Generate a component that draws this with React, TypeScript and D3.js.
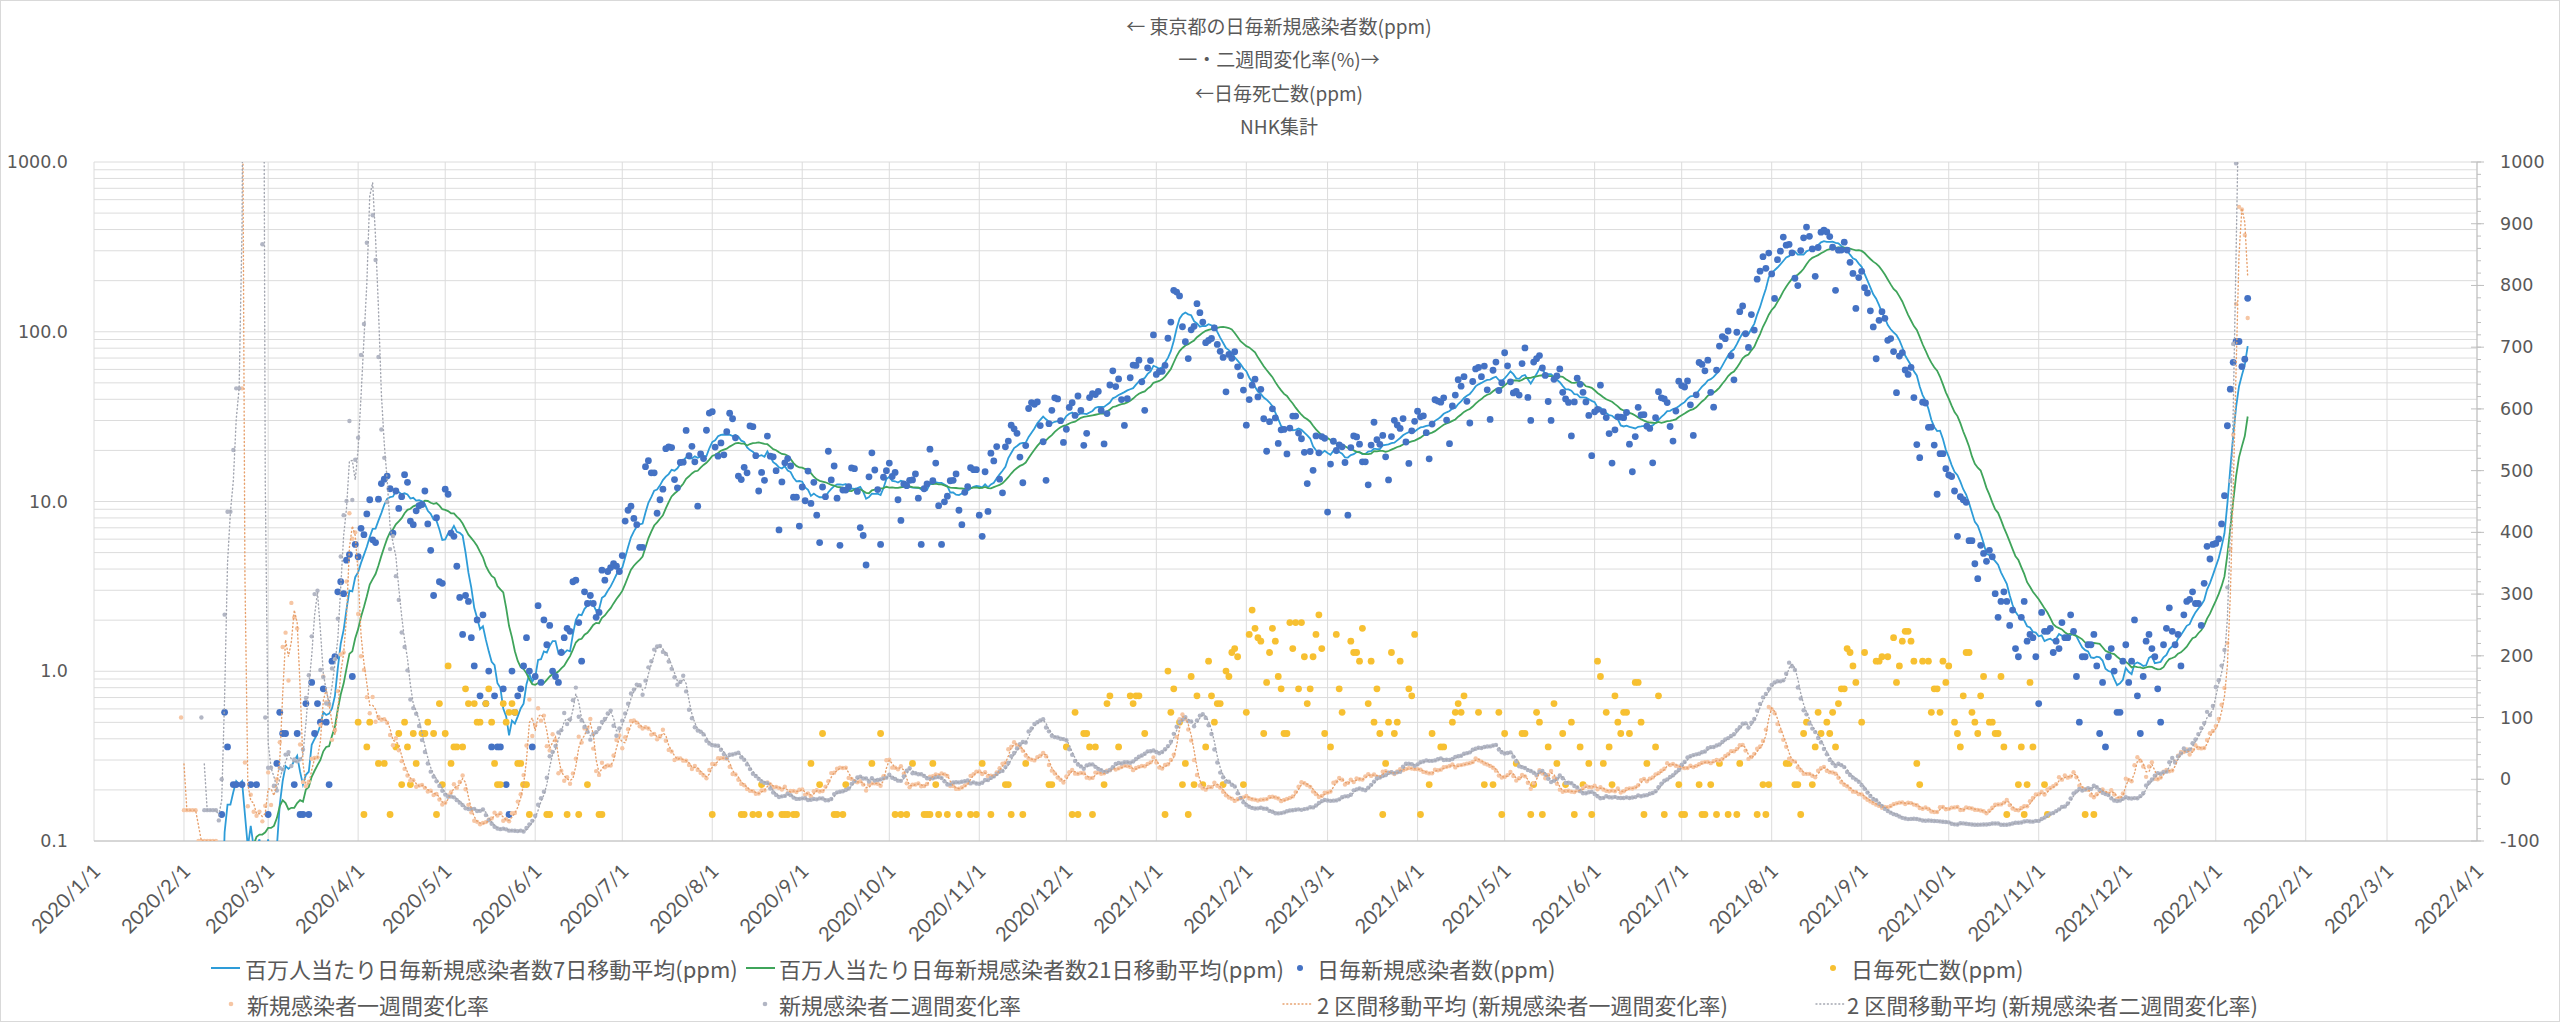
import React from 'react';
import * as d3 from 'd3';

// ---------------- data ----------------
const POPULATION_MILLION = 13.96;

// Tokyo daily new cases (count), one array per month, starting 2020-01-01
const c2020_01 = [0,0,0,0,0,0,0,0,0,0, 0,0,0,0,0,0,0,0,0,0, 0,0,0,1,1,0,0,0,0,1, 0];
const c2020_02 = [0,0,0,0,0,0,0,0,0,0, 0,0,1,2,8,5,0,3,3,0, 3,0,0,3,0,3,1,0,1];
const c2020_03 = [2,0,1,4,8,6,6,1,1,3, 6,2,2,9,2,12,6,9,7,11, 7,3,16,17,41,47,40,63,68,13, 78];
const c2020_04 = [66,97,89,118,143,83,80,144,178,189, 197,166,91,161,127,149,201,181,107,102, 123,132,134,161,103,72,39,112,47,46];
const c2020_05 = [165,154,91,87,58,38,23,39,36,22, 15,28,10,30,9,14,5,10,5,5, 11,3,2,14,8,10,11,15,22,14, 5];
const c2020_06 = [13,34,12,28,20,26,14,13,12,18, 22,25,24,47,48,27,16,41,35,39, 35,29,31,55,48,54,57,60,58,54];
const c2020_07 = [67,107,124,131,111,102,75,75,224,243, 206,206,119,143,165,286,293,290,188,168, 237,238,366,260,295,239,131,266,250,367, 463];
const c2020_08 = [472,292,258,309,263,360,462,429,331,197, 188,222,206,389,385,260,161,207,186,339, 258,256,212,95,182,236,250,226,148,148, 100];
const c2020_09 = [170,141,211,136,181,116,80,170,149,276, 187,226,146,77,163,163,171,220,218,160, 98,88,59,195,270,214,164,78,194,212];
const c2020_10 = [235,196,207,143,108,177,173,186,187,203, 146,78,166,177,284,185,235,132,78,139, 150,185,186,203,124,102,158,171,221,215, 215];
const c2020_11 = [116,87,209,122,269,242,294,189,157,293, 317,393,374,352,255,180,298,493,534,522, 539,391,314,186,401,481,570,561,418,311];
const c2020_12 = [372,500,533,449,584,480,299,352,572,602, 595,621,480,305,460,678,822,664,736,556, 392,563,748,888,884,949,708,481,856,944, 1337];
const c2021_01 = [783,814,816,884,1278,1591,2447,2392,2268,1494, 1219,970,1433,1502,2044,1809,1592,1204,1240,1274, 1471,1175,1070,986,618,1026,973,1064,868,769, 633];
const c2021_02 = [393,556,676,734,577,639,429,276,412,491, 434,307,369,371,266,378,445,445,353,327, 272,178,275,213,340,270,337,329];
const c2021_03 = [121,232,316,279,301,293,237,116,290,340, 335,304,239,239,175,300,409,323,303,342, 256,187,337,420,394,376,430,313,234,364, 414];
const c2021_04 = [475,440,446,355,249,399,555,545,537,570, 421,306,510,591,729,667,759,543,405,711, 843,861,759,876,635,425,828,925,629,698];
const c2021_05 = [1050,879,708,609,621,591,907,1121,573,419, 925,969,1010,854,772,542,419,732,766,843, 614,561,535,340,539,743,684,614,539,449, 260];
const c2021_06 = [471,487,676,472,436,351,235,369,440,439, 435,467,304,209,337,501,452,453,388,376, 236,435,619,570,562,534,386,317,476,714];
const c2021_07 = [673,660,716,518,342,593,920,896,822,950, 614,502,830,1149,1308,1271,1410,1008,727,1387, 1832,1979,1359,1128,1763,1429,2848,3177,3865,3300, 4058];
const c2021_08 = [3058,2195,3709,4166,5042,4515,4566,4066,2884,2612, 4200,4989,5773,5094,4295,2962,4377,5386,5534,5405, 5074,4392,2447,4220,4228,4704,4227,3581,3081,1915, 2909];
const c2021_09 = [3168,2539,2362,1853,1490,968,1629,1834,1675,1242, 1273,1067,611,1004,1052,831,782,862,572,302, 253,537,531,382,383,300,154,267,267,218];
const c2021_10 = [200,196,161,87,149,143,138,82,82,60, 49,77,69,62,72,66,40,29,36,41, 36,26,32,19,17,29,36,21,23,22, 17];
const c2021_11 = [9,31,24,24,25,18,21,19,27,22, 22,30,24,13,7,17,17,20,20,23, 15,6,12,5,17,19,14,8,8,16];
const c2021_12 = [20,12,16,28,10,6,13,21,23,19, 17,11,7,20,25,33,24,20,23,15, 30,36,37,41,35,35,26,46,76,64, 78];
const c2022_01 = [79,84,103,151,390,641,922,1224,1223,871, 962,2198];

// Tokyo daily deaths (count)
const deathRecords: [string, number][] = [
  ['2020-04-01',7],['2020-04-03',2],['2020-04-04',5],['2020-04-05',7],['2020-04-08',4],['2020-04-10',4],['2020-04-12',2],['2020-04-14',5],['2020-04-15',6],['2020-04-16',3],['2020-04-17',7],['2020-04-18',5],['2020-04-19',3],['2020-04-20',6],['2020-04-21',4],['2020-04-23',6],['2020-04-24',6],['2020-04-25',7],['2020-04-27',6],['2020-04-28',2],['2020-04-29',9],['2020-04-30',3],
  ['2020-05-01',6],['2020-05-02',15],['2020-05-03',4],['2020-05-04',5],['2020-05-05',5],['2020-05-07',5],['2020-05-08',11],['2020-05-09',9],['2020-05-11',9],['2020-05-12',7],['2020-05-13',7],['2020-05-15',9],['2020-05-16',11],['2020-05-17',7],['2020-05-18',4],['2020-05-19',3],['2020-05-20',3],['2020-05-21',9],['2020-05-22',7],['2020-05-23',8],['2020-05-24',9],['2020-05-25',8],['2020-05-26',4],['2020-05-27',4],['2020-05-28',3],['2020-05-29',3],['2020-05-30',2],
  ['2020-06-05',2],['2020-06-06',2],['2020-06-12',2],['2020-06-16',2],['2020-06-19',3],['2020-06-23',2],['2020-06-24',2],
  ['2020-08-01',2],['2020-08-11',2],['2020-08-12',2],['2020-08-15',2],['2020-08-17',2],['2020-08-18',3],['2020-08-21',2],['2020-08-25',2],['2020-08-26',2],['2020-08-27',2],['2020-08-29',2],['2020-08-30',2],
  ['2020-09-04',4],['2020-09-07',3],['2020-09-08',6],['2020-09-12',2],['2020-09-13',2],['2020-09-15',2],['2020-09-16',3],['2020-09-25',4],['2020-09-28',6],
  ['2020-10-03',2],['2020-10-05',2],['2020-10-07',2],['2020-10-09',4],['2020-10-13',2],['2020-10-14',2],['2020-10-15',2],['2020-10-16',4],['2020-10-17',3],['2020-10-18',2],['2020-10-21',2],['2020-10-25',2],['2020-10-29',2],['2020-10-31',2],
  ['2020-11-02',4],['2020-11-05',2],['2020-11-10',3],['2020-11-11',3],['2020-11-12',2],['2020-11-16',2],['2020-11-17',4],['2020-11-25',3],['2020-11-26',3],
  ['2020-12-01',5],['2020-12-03',2],['2020-12-04',8],['2020-12-05',2],['2020-12-07',6],['2020-12-08',6],['2020-12-09',5],['2020-12-10',2],['2020-12-11',5],['2020-12-14',3],['2020-12-15',9],['2020-12-16',10],['2020-12-19',5],['2020-12-23',10],['2020-12-24',9],['2020-12-25',10],['2020-12-26',10],['2020-12-28',6],
  ['2021-01-04',2],['2021-01-05',14],['2021-01-06',8],['2021-01-07',11],['2021-01-09',7],['2021-01-10',3],['2021-01-11',4],['2021-01-12',2],['2021-01-13',13],['2021-01-14',3],['2021-01-15',10],['2021-01-17',3],['2021-01-18',5],['2021-01-19',16],['2021-01-20',10],['2021-01-21',7],['2021-01-22',9],['2021-01-23',9],['2021-01-24',3],['2021-01-25',14],['2021-01-26',13],['2021-01-27',18],['2021-01-28',19],['2021-01-29',17],['2021-01-31',3],
  ['2021-02-01',8],['2021-02-02',23],['2021-02-03',32],['2021-02-04',25],['2021-02-05',22],['2021-02-06',21],['2021-02-07',6],['2021-02-08',12],['2021-02-09',18],['2021-02-10',25],['2021-02-11',21],['2021-02-12',13],['2021-02-13',11],['2021-02-14',6],['2021-02-15',6],['2021-02-16',27],['2021-02-17',19],['2021-02-18',27],['2021-02-19',11],['2021-02-20',27],['2021-02-21',17],['2021-02-22',9],['2021-02-23',11],['2021-02-24',17],['2021-02-25',23],['2021-02-26',30],['2021-02-27',19],['2021-02-28',6],
  ['2021-03-02',5],['2021-03-04',23],['2021-03-05',11],['2021-03-06',8],['2021-03-09',21],['2021-03-10',18],['2021-03-11',18],['2021-03-12',16],['2021-03-13',25],['2021-03-15',9],['2021-03-16',16],['2021-03-17',7],['2021-03-18',11],['2021-03-19',6],['2021-03-20',2],['2021-03-21',4],['2021-03-22',7],['2021-03-23',18],['2021-03-24',6],['2021-03-25',7],['2021-03-26',16],['2021-03-29',11],['2021-03-30',10],['2021-03-31',23],
  ['2021-04-02',2],['2021-04-05',3],['2021-04-06',6],['2021-04-09',5],['2021-04-10',5],['2021-04-13',7],['2021-04-14',8],['2021-04-15',9],['2021-04-16',8],['2021-04-17',10],['2021-04-22',8],['2021-04-24',3],['2021-04-27',3],['2021-04-29',8],['2021-04-30',2],
  ['2021-05-01',6],['2021-05-05',4],['2021-05-07',6],['2021-05-08',6],['2021-05-10',2],['2021-05-11',3],['2021-05-12',8],['2021-05-13',7],['2021-05-14',2],['2021-05-16',5],['2021-05-18',9],['2021-05-19',4],['2021-05-21',6],['2021-05-22',3],['2021-05-24',7],['2021-05-25',2],['2021-05-27',5],['2021-05-28',3],['2021-05-30',4],['2021-05-31',2],
  ['2021-06-02',16],['2021-06-03',13],['2021-06-04',4],['2021-06-05',8],['2021-06-06',5],['2021-06-07',3],['2021-06-08',10],['2021-06-09',7],['2021-06-10',6],['2021-06-11',8],['2021-06-12',8],['2021-06-13',6],['2021-06-15',12],['2021-06-16',12],['2021-06-17',7],['2021-06-18',2],['2021-06-19',4],['2021-06-22',5],['2021-06-23',10],['2021-06-25',2],['2021-06-30',3],
  ['2021-07-01',2],['2021-07-02',2],['2021-07-07',3],['2021-07-08',2],['2021-07-09',2],['2021-07-11',3],['2021-07-13',2],['2021-07-14',4],['2021-07-17',2],['2021-07-20',2],['2021-07-21',4],['2021-07-27',2],['2021-07-29',3],['2021-07-30',2],['2021-07-31',3],
  ['2021-08-06',4],['2021-08-07',4],['2021-08-09',3],['2021-08-10',3],['2021-08-11',2],['2021-08-12',6],['2021-08-13',7],['2021-08-15',3],['2021-08-16',5],['2021-08-17',8],['2021-08-18',6],['2021-08-20',7],['2021-08-21',6],['2021-08-22',8],['2021-08-23',5],['2021-08-24',9],['2021-08-25',11],['2021-08-26',11],['2021-08-27',19],['2021-08-28',18],['2021-08-29',15],['2021-08-30',12],
  ['2021-09-01',7],['2021-09-02',18],['2021-09-06',16],['2021-09-07',16],['2021-09-08',17],['2021-09-10',17],['2021-09-12',22],['2021-09-13',12],['2021-09-14',15],['2021-09-15',21],['2021-09-16',24],['2021-09-17',24],['2021-09-18',21],['2021-09-19',16],['2021-09-20',4],['2021-09-21',3],['2021-09-22',16],['2021-09-24',16],['2021-09-25',8],['2021-09-26',11],['2021-09-27',11],['2021-09-28',8],['2021-09-29',16],['2021-09-30',12],
  ['2021-10-01',15],['2021-10-03',7],['2021-10-04',6],['2021-10-05',5],['2021-10-06',10],['2021-10-07',18],['2021-10-08',18],['2021-10-09',8],['2021-10-10',7],['2021-10-11',6],['2021-10-12',10],['2021-10-13',13],['2021-10-15',7],['2021-10-16',7],['2021-10-17',6],['2021-10-18',6],['2021-10-19',13],['2021-10-20',5],['2021-10-21',2],['2021-10-25',3],['2021-10-26',5],['2021-10-27',2],['2021-10-28',3],['2021-10-29',12],['2021-10-30',5],
  ['2021-11-03',3],['2021-11-04',2],['2021-11-17',2],['2021-11-20',2],
];

const leftTicks = [0.1, 1, 10, 100, 1000];
const leftTickLabels = ['0.1', '1.0', '10.0', '100.0', '1000.0'];
const rightTicks = [-100, 0, 100, 200, 300, 400, 500, 600, 700, 800, 900, 1000];
const titleLines = ['← 東京都の日毎新規感染者数(ppm)', '一・二週間変化率(%)→', '←日毎死亡数(ppm)', 'NHK集計'];
const legendRow1 = ['百万人当たり日毎新規感染者数7日移動平均(ppm)', '百万人当たり日毎新規感染者数21日移動平均(ppm)', '日毎新規感染者数(ppm)', '日毎死亡数(ppm)'];
const legendRow2 = ['新規感染者一週間変化率', '新規感染者二週間変化率', '2 区間移動平均 (新規感染者一週間変化率)', '2 区間移動平均 (新規感染者二週間変化率)'];

// ---------------- layout ----------------
const W = 2560, H = 1022;
const PL = 94, PR = 2477, PT = 162, PB = 841;

const C_MA7 = '#2E9CD8';
const C_MA21 = '#3FA45A';
const C_CASE = '#4472C4';
const C_DEATH = '#F7C031';
const C_R1DOT = '#F6C6A4';
const C_R2DOT = '#B2B6C4';
const C_R1LINE = '#E7A06C';
const C_R2LINE = '#A3A6B0';
const TXT = '#595959';
const GRID = '#DCDCDC';
const CJK = "'Noto Sans CJK JP', 'Noto Sans', sans-serif";
const DOTS = '1 2.8';

export default function App() {
  const daily = [
    ...c2020_01, ...c2020_02, ...c2020_03, ...c2020_04, ...c2020_05, ...c2020_06,
    ...c2020_07, ...c2020_08, ...c2020_09, ...c2020_10, ...c2020_11, ...c2020_12,
    ...c2021_01, ...c2021_02, ...c2021_03, ...c2021_04, ...c2021_05, ...c2021_06,
    ...c2021_07, ...c2021_08, ...c2021_09, ...c2021_10, ...c2021_11, ...c2021_12,
    ...c2022_01,
  ];
  const dates = daily.map((_, i) => new Date(Date.UTC(2020, 0, 1 + i)));
  const idx = daily.map((_, i) => i);

  const x = d3.scaleUtc().domain([new Date(Date.UTC(2020, 0, 1)), new Date(Date.UTC(2022, 3, 1))]).range([PL, PR]);
  const yL = d3.scaleLog().domain([0.1, 1000]).range([PB, PT]);
  const yR = d3.scaleLinear().domain([-100, 1000]).range([PB, PT]);

  const sumN = (i: number, n: number) => (i - n + 1 < 0 ? null : d3.sum(daily.slice(i - n + 1, i + 1)));
  const ma7 = daily.map((_, i) => { const s = sumN(i, 7); return s == null ? null : s / 7 / POPULATION_MILLION; });
  const ma21 = daily.map((_, i) => { const s = sumN(i, 21); return s == null ? null : s / 21 / POPULATION_MILLION; });
  // period-over-period change of the n-day total (%)
  const rate = (n: number) => daily.map((_, i) => {
    const a = sumN(i, n); const b = i - n >= 0 ? sumN(i - n, n) : null;
    if (a == null || b == null || b === 0) return null;
    return (a / b - 1) * 100;
  });
  const r1 = rate(7);
  const r2 = rate(14);
  const ma2 = (r: (number | null)[]) => r.map((v, i) => (i > 0 && v != null && r[i - 1] != null ? (v + (r[i - 1] as number)) / 2 : null));
  const r1m = ma2(r1);
  const r2m = ma2(r2);

  const logPath = (arr: (number | null)[]) => d3.line<number>()
    .defined((i) => arr[i] != null && (arr[i] as number) > 0)
    .x((i) => x(dates[i]))
    .y((i) => yL(arr[i] as number))(idx) || '';
  const linPath = (arr: (number | null)[]) => d3.line<number>()
    .defined((i) => arr[i] != null)
    .x((i) => x(dates[i]))
    .y((i) => yR(arr[i] as number))(idx) || '';

  const months = d3.utcMonth.range(new Date(Date.UTC(2020, 0, 1)), new Date(Date.UTC(2022, 3, 2)));
  const fmt = (d: Date) => `${d.getUTCFullYear()}/${d.getUTCMonth() + 1}/${d.getUTCDate()}`;

  const gridVals: number[] = [];
  for (let e = -1; e < 3; e++) for (let m = 1; m <= 9; m++) gridVals.push(m * Math.pow(10, e));
  gridVals.push(1000);

  const parse = d3.utcParse('%Y-%m-%d');

  return (
    <svg width={W} height={H} style={{ position: 'absolute', left: 0, top: 0, background: '#fff' }} xmlns="http://www.w3.org/2000/svg">
      <defs>
        <clipPath id="plot"><rect x={PL} y={PT} width={PR - PL} height={PB - PT} /></clipPath>
      </defs>
      <rect x={0.5} y={0.5} width={W - 1} height={H - 1} fill="#fff" stroke="#D9D9D9" />

      {titleLines.map((t, i) => (
        <text key={i} x={1279} y={25 + i * 33.5} textAnchor="middle" dominantBaseline="central" fontFamily={CJK} fontSize={19} fill={TXT}>{t}</text>
      ))}

      {gridVals.map((v, i) => (
        <line key={'h' + i} x1={PL} x2={PR} y1={yL(v)} y2={yL(v)} stroke={GRID} strokeWidth={1} />
      ))}
      {months.map((d, i) => (
        <line key={'v' + i} x1={x(d)} x2={x(d)} y1={PT} y2={PB} stroke={GRID} strokeWidth={1} />
      ))}
      <line x1={PL} x2={PR} y1={PB} y2={PB} stroke="#BFBFBF" strokeWidth={1.2} />
      <line x1={PR} x2={PR} y1={PT} y2={PB} stroke="#BFBFBF" strokeWidth={1} />
      {d3.range(-100, 1001, 20).map((v) => (
        <line key={'mt' + v} x1={PR} x2={PR + 4} y1={yR(v)} y2={yR(v)} stroke="#BFBFBF" />
      ))}
      {rightTicks.map((v) => (
        <line key={'rt' + v} x1={PR - 6} x2={PR + 7} y1={yR(v)} y2={yR(v)} stroke="#BFBFBF" />
      ))}

      {leftTicks.map((v, i) => (
        <text key={'lt' + i} x={68} y={yL(v)} textAnchor="end" dominantBaseline="central" fontFamily="'DejaVu Sans', sans-serif" fontSize={17.5} fill={TXT}>{leftTickLabels[i]}</text>
      ))}
      {rightTicks.map((v) => (
        <text key={'rl' + v} x={2500} y={yR(v)} textAnchor="start" dominantBaseline="central" fontFamily="'DejaVu Sans', sans-serif" fontSize={17.5} fill={TXT}>{v}</text>
      ))}
      {months.map((d, i) => (
        <text key={'xl' + i} transform={`translate(${x(d) + 2},${867}) rotate(-45)`} textAnchor="end" dominantBaseline="central" fontFamily="Lato, 'Open Sans', sans-serif" fontSize={20} fill={TXT}>{fmt(d)}</text>
      ))}

      <g clipPath="url(#plot)">
        <path d={logPath(ma7)} fill="none" stroke={C_MA7} strokeWidth={1.8} />
        <path d={logPath(ma21)} fill="none" stroke={C_MA21} strokeWidth={1.8} />
        {daily.map((v, i) => (v > 0 ? (
          <circle key={'c' + i} cx={x(dates[i])} cy={yL(v / POPULATION_MILLION)} r={3.4} fill={C_CASE} />
        ) : null))}
        {deathRecords.map(([ds, n], i) => (
          <circle key={'d' + i} cx={x(parse(ds) as Date)} cy={yL(n / POPULATION_MILLION)} r={3.4} fill={C_DEATH} />
        ))}
        {r1.map((v, i) => (v != null ? (
          <circle key={'r1' + i} cx={x(dates[i])} cy={yR(v)} r={2.2} fill={C_R1DOT} />
        ) : null))}
        {r2.map((v, i) => (v != null ? (
          <circle key={'r2' + i} cx={x(dates[i])} cy={yR(v)} r={2.2} fill={C_R2DOT} />
        ) : null))}
        <path d={linPath(r1m)} fill="none" stroke={C_R1LINE} strokeWidth={1.4} strokeDasharray={DOTS} strokeLinecap="round" />
        <path d={linPath(r2m)} fill="none" stroke={C_R2LINE} strokeWidth={1.4} strokeDasharray={DOTS} strokeLinecap="round" />
      </g>

      <g fontFamily={CJK} fontSize={22} fill={TXT}>
        <line x1={211} x2={240} y1={968} y2={968} stroke={C_MA7} strokeWidth={2} />
        <text x={245} y={968} dominantBaseline="central">{legendRow1[0]}</text>
        <line x1={746} x2={775} y1={968} y2={968} stroke={C_MA21} strokeWidth={2} />
        <text x={779} y={968} dominantBaseline="central">{legendRow1[1]}</text>
        <circle cx={1300} cy={968} r={3} fill={C_CASE} />
        <text x={1317} y={968} dominantBaseline="central">{legendRow1[2]}</text>
        <circle cx={1833} cy={968} r={3} fill={C_DEATH} />
        <text x={1851} y={968} dominantBaseline="central">{legendRow1[3]}</text>

        <circle cx={231} cy={1004} r={2.3} fill={C_R1DOT} />
        <text x={247} y={1004} dominantBaseline="central">{legendRow2[0]}</text>
        <circle cx={765} cy={1004} r={2.3} fill={C_R2DOT} />
        <text x={779} y={1004} dominantBaseline="central">{legendRow2[1]}</text>
        <line x1={1283} x2={1313} y1={1004} y2={1004} stroke={C_R1LINE} strokeWidth={1.4} strokeDasharray={DOTS} strokeLinecap="round" />
        <text x={1317} y={1004} dominantBaseline="central">{legendRow2[2]}</text>
        <line x1={1816} x2={1845} y1={1004} y2={1004} stroke={C_R2LINE} strokeWidth={1.4} strokeDasharray={DOTS} strokeLinecap="round" />
        <text x={1847} y={1004} dominantBaseline="central">{legendRow2[3]}</text>
      </g>
    </svg>
  );
}
